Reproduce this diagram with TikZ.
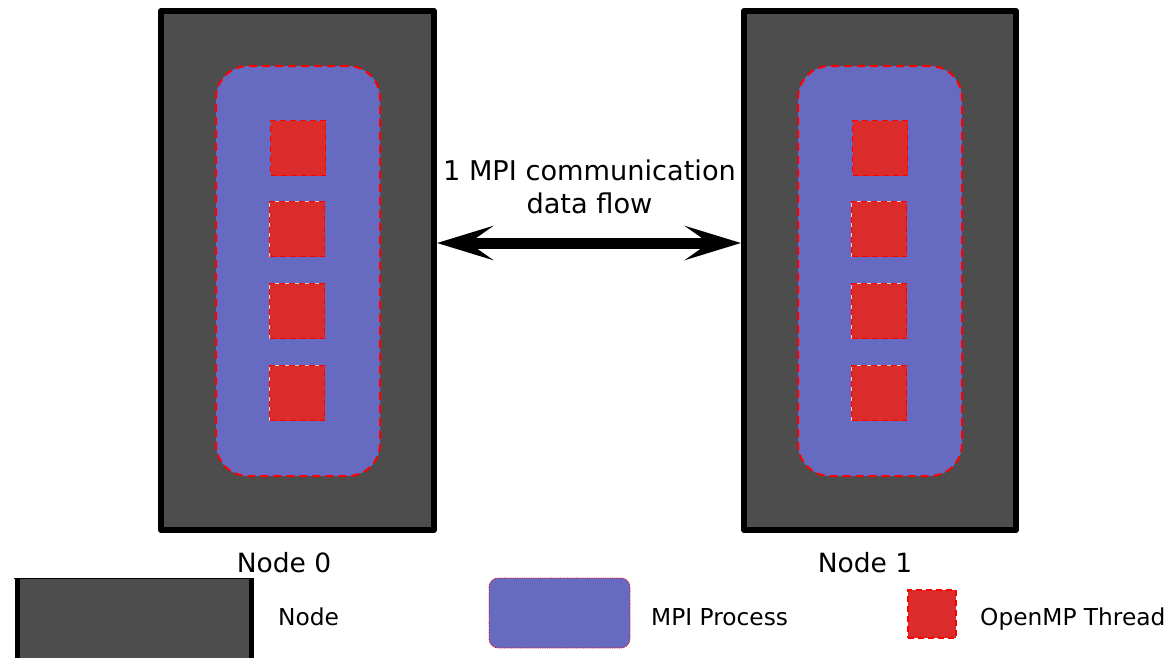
\documentclass[tikz,border=0pt]{standalone}
\usepackage{fontspec}
\setmainfont{DejaVu Sans}
\usetikzlibrary{arrows.meta}
\definecolor{nodegray}{RGB}{77,77,77}
\definecolor{procblue}{RGB}{102,106,192}
\definecolor{thrred}{RGB}{220,43,43}
\definecolor{dashred}{RGB}{255,0,0}
\tikzset{
  nodebox/.style={draw=black, fill=nodegray, line width=6pt, line join=round,
    inner sep=0pt, minimum width=273pt, minimum height=519pt},
  procbox/.style={draw=dashred, fill=procblue, line width=2pt,
    dash pattern=on 8pt off 5pt, rounded corners=32pt, inner sep=0pt,
    minimum width=164pt, minimum height=410pt},
  thread/.style={draw=dashred, fill=thrred, line width=1.6pt,
    dash pattern=on 6pt off 4pt, inner sep=0pt, minimum size=55pt},
  threadpale/.style={thread, preaction={draw=white!80!red, solid, line width=1.6pt}},
  lbl/.style={font=\fontsize{26.5}{30}\selectfont, anchor=base},
  commlbl/.style={font=\fontsize{27.2}{31}\selectfont, anchor=base},
  legtext/.style={font=\fontsize{23.3}{27}\selectfont, anchor=base west, inner sep=0pt},
  flow/.style={line width=11pt, {Stealth[length=56pt, width=34pt, inset=24pt]}-{Stealth[length=56pt, width=34pt, inset=24pt]}}
}
\begin{document}
\begin{tikzpicture}[x=1pt, y=-1pt]
\useasboundingbox (0,0) rectangle (1171,657);

% compute nodes
\node[nodebox] (n0) at (297.5,270.5) {};
\node[nodebox, minimum width=272pt] (n1) at (880,270.5) {};

% MPI processes
\node[procbox] (p0) at (298,271) {};
\node[procbox] (p1) at (880,271) {};

% OpenMP threads
\node[thread]     (t00) at (298,148) {};
\node[threadpale] (t01) at (297,229) {};
\node[threadpale] (t02) at (297,311) {};
\node[threadpale] (t03) at (297,393) {};
\node[thread]     (t10) at (880,148) {};
\node[threadpale] (t11) at (879,229) {};
\node[threadpale] (t12) at (879,311) {};
\node[threadpale] (t13) at (879,393) {};

% communication between the two nodes
\coordinate (lvl) at (0,243);
\draw[flow] (n0.east |- lvl) -- (n1.west |- lvl);
\node[commlbl] (comm) at (589.5,180) {1 MPI communication};
\node[commlbl] (flowlbl) at (589.5,213) {data flow};

% node captions
\node[lbl] (c0) at (284,572) {Node 0};
\node[lbl] (c1) at (865,572) {Node 1};

% legend
\fill[nodegray] (17,578) rectangle (251,660);
\draw[line width=1.2pt] (14,578.5) -- (254,578.5);
\draw[line width=5pt] (17,578) -- (17,660);
\draw[line width=5pt] (251,578) -- (251,660);
\node[legtext] (lnode) at (278,625) {Node};

\draw[draw=dashred, fill=procblue, line width=0.8pt, densely dotted, rounded corners=9pt]
  (489,578) rectangle (630,648);
\node[legtext] (lproc) at (651,625) {MPI Process};

\node[thread, minimum size=48pt] (lthr) at (932,614) {};
\node[legtext] (lthrtxt) at (980,625) {OpenMP Thread};
\end{tikzpicture}
\end{document}
